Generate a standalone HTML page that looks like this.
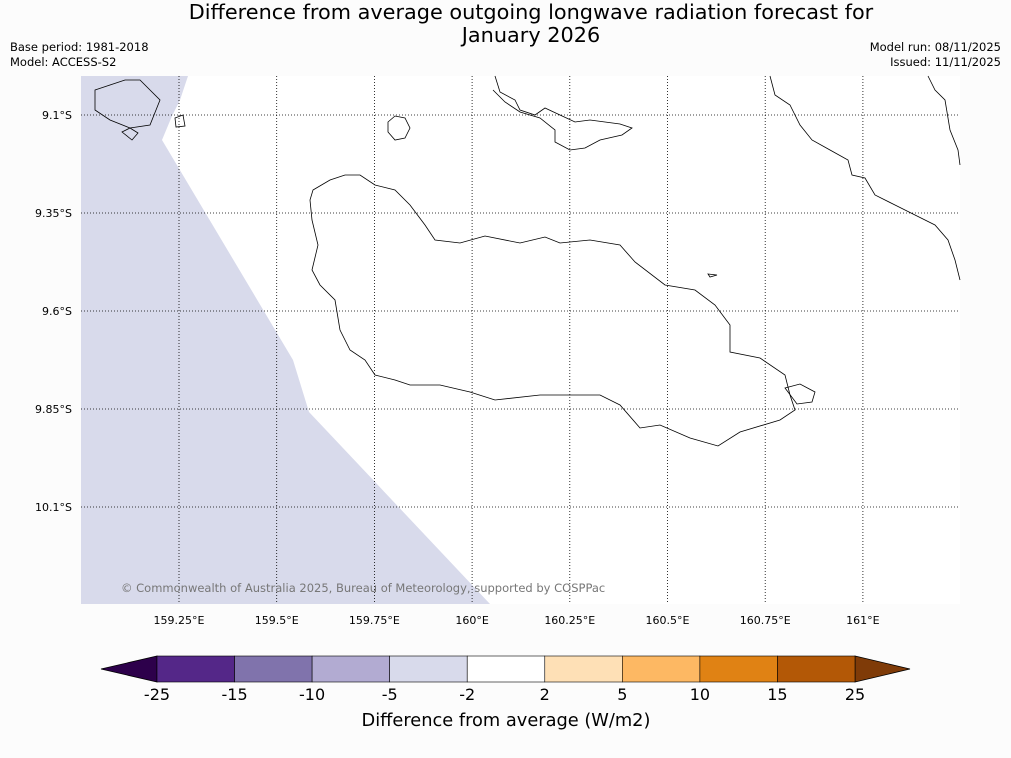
<!DOCTYPE html>
<html><head><meta charset="utf-8"><style>
body{margin:0;background:#fcfcfc;font-family:"DejaVu Sans","Liberation Sans",sans-serif}
svg{display:block;font-family:"DejaVu Sans","Liberation Sans",sans-serif}
</style></head><body>
<svg id="c" width="1011" height="758" xmlns="http://www.w3.org/2000/svg">
<rect width="1011" height="758" fill="#fcfcfc"/>
<text x="531" y="19" font-size="20.8" text-anchor="middle">Difference from average outgoing longwave radiation forecast for</text>
<text x="531" y="42" font-size="20.8" text-anchor="middle">January 2026</text>
<text x="10" y="51" font-size="11.5">Base period: 1981-2018</text>
<text x="10" y="66" font-size="11.5">Model: ACCESS-S2</text>
<text x="1001" y="51" font-size="11.5" text-anchor="end">Model run: 08/11/2025</text>
<text x="1001" y="66" font-size="11.5" text-anchor="end">Issued: 11/11/2025</text>
<g id="map">
<rect x="81" y="76" width="879" height="528" fill="#fff"/>
<polygon points="81,76 188,76 180,100 172,116 162,140 293,360 309,412 490,604 81,604" fill="#d8daeb"/>
<g fill="none" stroke="#000" stroke-width="0.8">
<path d="M313,190 L330,180 345,175 360,175 375,185 395,190 410,205 425,225 435,240 460,243 485,236 520,243 545,237 560,243 590,240 620,245 635,262 665,285 695,290 715,305 730,325 730,352 760,358 785,375 790,395 795,410 780,420 740,432 718,446 690,438 660,425 640,428 620,405 600,395 540,395 495,400 470,392 440,385 410,385 395,380 375,375 365,360 350,350 340,330 335,300 320,285 312,270 318,245 312,220 310,200 Z"/>
<path d="M495,76 L500,92 515,100 520,110 535,115 545,108 560,115 575,122 590,120 605,122 620,124 632,128 622,135 600,140 585,148 570,150 555,142 555,130 540,118 520,112 505,102 493,90"/>
<path d="M388,122 L395,116 405,118 410,128 405,138 395,140 388,132 Z"/>
<path d="M770,76 L775,95 790,105 800,125 812,140 830,150 848,160 852,175 865,178 875,195 895,205 915,215 935,225 948,240 955,260 960,280"/>
<path d="M928,76 L935,90 945,100 950,130 958,150 960,165"/>
<path d="M95,90 L110,85 125,80 140,80 150,90 160,100 150,125 130,128 110,120 95,110 Z"/>
<path d="M122,132 L130,128 138,133 132,140 Z"/>
<path d="M175,118 L183,115 185,126 176,127 Z"/>
<path d="M708,274 L717,275 710,277 Z"/>
<path d="M785,388 L800,384 815,392 812,402 797,404 Z"/>
</g>
<g id="grid"></g>
<text x="121" y="592" font-size="11.5" fill="#777">© Commonwealth of Australia 2025, Bureau of Meteorology, supported by COSPPac</text>
</g>
<g id="cbar"></g>
<text x="506" y="726" font-size="17.8" text-anchor="middle">Difference from average (W/m2)</text>
</svg>
<script>
const lonTicks=[159.25,159.5,159.75,160,160.25,160.5,160.75,161];
const lonLabels=["159.25°E","159.5°E","159.75°E","160°E","160.25°E","160.5°E","160.75°E","161°E"];
const latTicks=[9.1,9.35,9.6,9.85,10.1];
const latLabels=["9.1°S","9.35°S","9.6°S","9.85°S","10.1°S"];
const cbBounds=[-25,-15,-10,-5,-2,2,5,10,15,25];
const cbColors=["#542788","#8073ac","#b2abd2","#d8daeb","#ffffff","#fee0b6","#fdb863","#e08214","#b35806"];
const cbUnder="#2d004b", cbOver="#7f3b08";
const NS="http://www.w3.org/2000/svg";
const xLon=v=>179+(v-159.25)/0.25*97.7;
const yLat=v=>115+(v-9.1)/0.25*98;
function mk(t,a,p){const e=document.createElementNS(NS,t);for(const k in a)e.setAttribute(k,a[k]);p.appendChild(e);return e;}
const g=document.getElementById('grid');
lonTicks.forEach((v,i)=>{const x=xLon(v);
 const l=mk('line',{x1:x,x2:x,y1:76,y2:604,stroke:'#000','stroke-width':0.8,'stroke-dasharray':'1,2'},g);
 
 
 const t=mk('text',{x:x,y:624,'font-size':11,'text-anchor':'middle'},g);t.textContent=lonLabels[i];
 
 });
latTicks.forEach((v,i)=>{const y=yLat(v);
 const l=mk('line',{x1:81,x2:960,y1:y,y2:y,stroke:'#000','stroke-width':0.8,'stroke-dasharray':'1,2'},g);
 
 
 const t=mk('text',{x:72,y:y+4,'font-size':11,'text-anchor':'end'},g);t.textContent=latLabels[i];
 
 });
const cb=document.getElementById('cbar');
const x0=157,x1=855,y0=656,y1=682,n=cbColors.length,w=(x1-x0)/n;
const under=mk('polygon',{points:`${x0},${y0} ${x0},${y1} 101,669`,fill:cbUnder,stroke:'#000','stroke-width':0.8},cb);


const over=mk('polygon',{points:`${x1},${y0} ${x1},${y1} 910,669`,fill:cbOver,stroke:'#000','stroke-width':0.8},cb);


cbColors.forEach((c,i)=>{const r=mk('rect',{x:x0+i*w,y:y0,width:w,height:y1-y0,fill:c,stroke:'#000','stroke-width':0.6},cb);
 
 });
cbBounds.forEach((b,i)=>{const t=mk('text',{x:x0+i*w,y:700,'font-size':16,'text-anchor':'middle'},cb);t.textContent=b;
 
 });
</script>
</body></html>
